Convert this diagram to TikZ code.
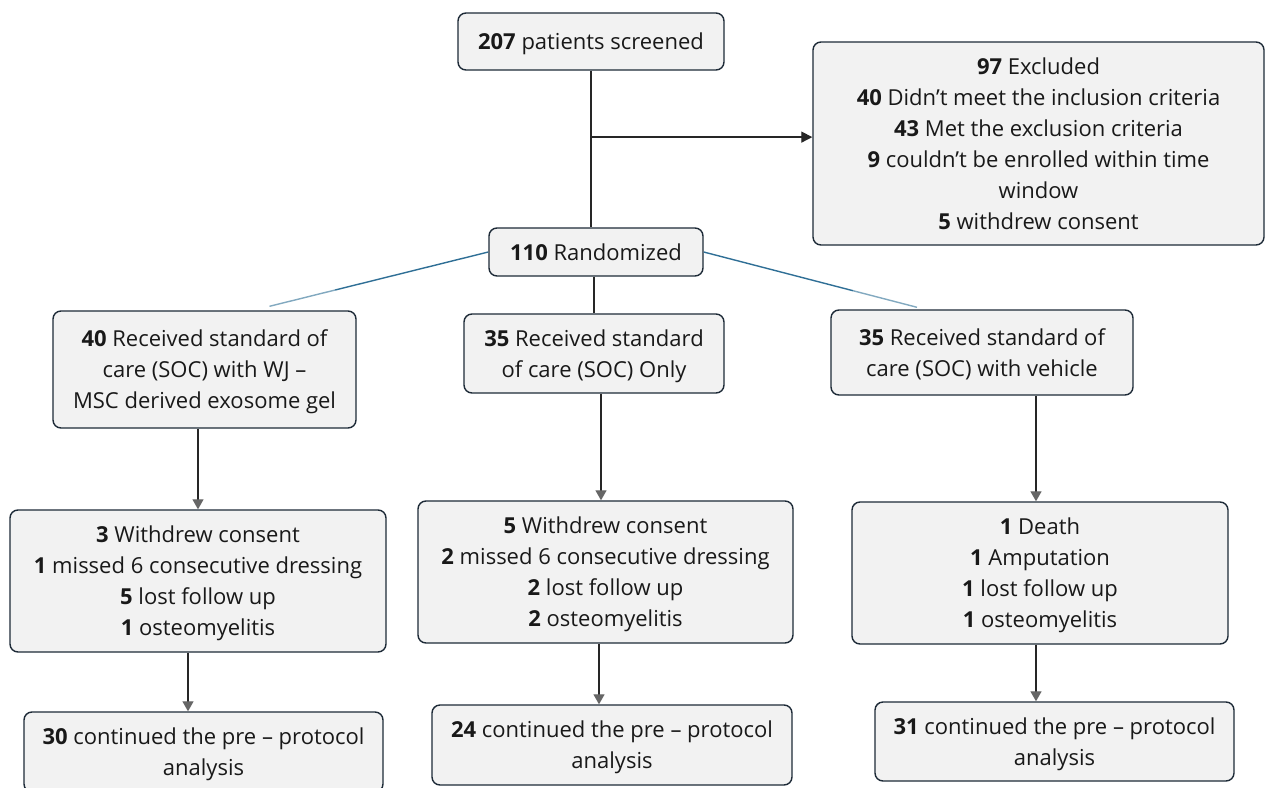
\documentclass[tikz,border=0pt]{standalone}
\usepackage{fontspec}
\setmainfont{Open Sans}
\usetikzlibrary{arrows.meta,calc}
\definecolor{boxfill}{HTML}{F2F2F2}
\definecolor{boxline}{HTML}{1E2B38}
\definecolor{conn}{HTML}{262626}
\definecolor{blueline}{HTML}{2F6F96}
\begin{document}
\begin{tikzpicture}[x=1pt,y=-1pt,
  box/.style={draw=boxline, line width=1.4pt, fill=boxfill, rounded corners=8pt,
    align=center, inner sep=0pt, text depth=-8pt, font=\fontsize{22}{31}\selectfont, text=black!90},
  arr/.style={draw=conn, line width=1.3pt, -{Triangle[length=10pt,width=11pt,color=black!60]}},
  arrdark/.style={draw=conn, line width=1.3pt, -{Triangle[length=11pt,width=11pt,color=conn]}},
  ln/.style={draw=conn, line width=1.3pt},
  bl/.style={draw=blueline, line width=1.4pt}]
\useasboundingbox (0,0) rectangle (1266,787);
\clip (0,0) rectangle (1266,787);
\fill[white] (0,0) rectangle (1266,787);

\node[box, minimum width=266pt, minimum height=57pt] (S) at (591,41.5) {\textbf{207} patients screened};
\node[box, minimum width=451pt, minimum height=203pt] (E) at (1038.5,143.5)
  {\textbf{97} Excluded\\ \textbf{40} Didn’t meet the inclusion criteria\\ \textbf{43} Met the exclusion criteria\\ \textbf{9} couldn’t be enrolled within time\\ window\\ \textbf{5} withdrew consent};
\node[box, minimum width=214pt, minimum height=48pt] (R) at (596,252) {\textbf{110} Randomized};

\node[box, minimum width=303pt, minimum height=117pt] (A1) at (204.5,369.5)
  {\textbf{40} Received standard of\\ care (SOC) with WJ –\\ MSC derived exosome gel};
\node[box, minimum width=260pt, minimum height=79pt] (B1) at (594,353.5)
  {\textbf{35} Received standard\\ of care (SOC) Only};
\node[box, minimum width=302pt, minimum height=85pt] (C1) at (982,352.5)
  {\textbf{35} Received standard of\\ care (SOC) with vehicle};

\node[box, minimum width=376pt, minimum height=142pt] (A2) at (198,581)
  {\textbf{3} Withdrew consent\\ \textbf{1} missed 6 consecutive dressing\\ \textbf{5} lost follow up\\ \textbf{1} osteomyelitis};
\node[box, minimum width=375pt, minimum height=142pt] (B2) at (605.5,572)
  {\textbf{5} Withdrew consent\\ \textbf{2} missed 6 consecutive dressing\\ \textbf{2} lost follow up\\ \textbf{2} osteomyelitis};
\node[box, minimum width=376pt, minimum height=142pt] (C2) at (1040,573)
  {\textbf{1} Death\\ \textbf{1} Amputation\\ \textbf{1} lost follow up\\ \textbf{1} osteomyelitis};

\node[box, minimum width=359pt, minimum height=80pt] (A3) at (203.5,752)
  {\textbf{30} continued the pre – protocol\\ analysis};
\node[box, minimum width=360pt, minimum height=80pt] (B3) at (612,745)
  {\textbf{24} continued the pre – protocol\\ analysis};
\node[box, minimum width=359pt, minimum height=79pt] (C3) at (1054.5,741.5)
  {\textbf{31} continued the pre – protocol\\ analysis};

% trunk and exclusion arrow
\draw[ln] (S.south) -- (S.south |- R.north);
\coordinate (J) at ($(S.south)!0.424!(S.south |- R.north)$);
\draw[arrdark] (J) -- (J -| E.west);

% randomization branches
\draw[ln] (B1.north |- R.south) -- (B1.north);
\coordinate (AL) at ($(A1.north)+(65,-4)$);
\coordinate (ALm) at ($(R.west)!0.7!(AL)$);
\draw[bl] (R.west) -- (ALm);
\draw[bl, draw=blueline!60] (ALm) -- (AL);
\coordinate (CR) at ($(C1.north)+(-65,-2)$);
\coordinate (CRm) at ($(R.east)!0.7!(CR)$);
\draw[bl] (R.east) -- (CRm);
\draw[bl, draw=blueline!60] (CRm) -- (CR);

% column arrows
\coordinate (b1) at ($(B1.south)+(7,0)$);
\coordinate (c2n) at ($(C2.north)+(-4,0)$);
\coordinate (a2) at ($(A2.south)+(-10,0)$);
\coordinate (b2) at ($(B2.south)+(-6.5,0)$);
\coordinate (c2) at ($(C2.south)+(-4,0)$);
\draw[arr] (A2.north |- A1.south) -- (A2.north);
\draw[arr] (b1) -- (b1 |- B2.north);
\draw[arr] (c2n |- C1.south) -- (c2n);
\draw[arr] (a2) -- (a2 |- A3.north);
\draw[arr] (b2) -- (b2 |- B3.north);
\draw[arr] (c2) -- (c2 |- C3.north);
\end{tikzpicture}
\end{document}
